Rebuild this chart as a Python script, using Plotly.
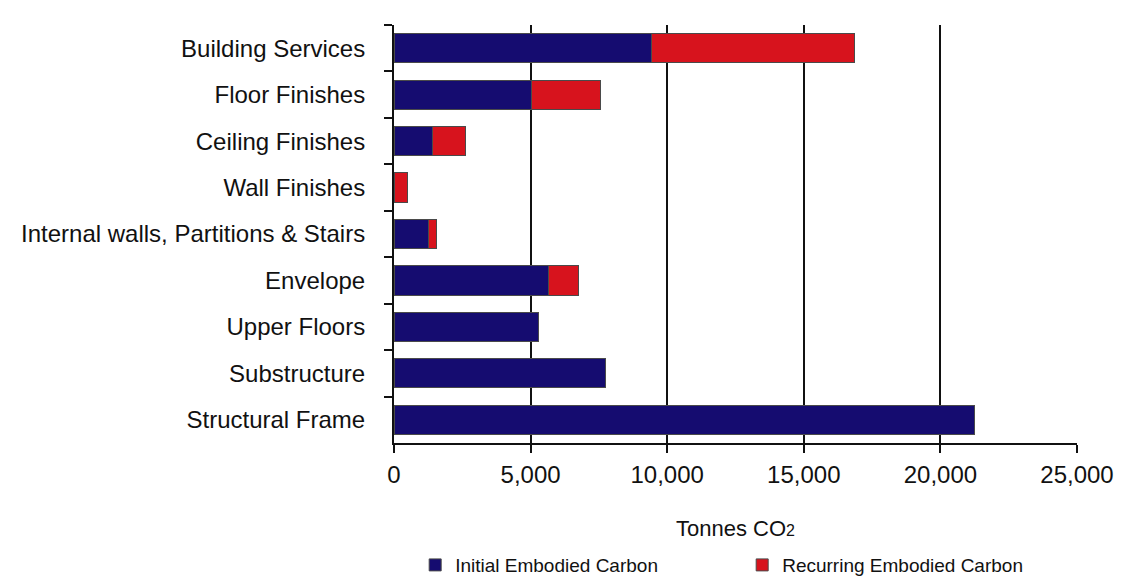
import plotly.graph_objects as go

categories = ["Building Services", "Floor Finishes", "Ceiling Finishes", "Wall Finishes",
              "Internal walls, Partitions & Stairs", "Envelope", "Upper Floors",
              "Substructure", "Structural Frame"]
initial = [9430, 5040, 1415, 0, 1255, 5650, 5280, 7735, 21250]
recurring = [7440, 2525, 1210, 500, 305, 1095, 0, 0, 0]
x_ticks = [0, 5000, 10000, 15000, 20000, 25000]

BLUE = "#150c70"
RED = "#d7131d"
FONT = "Liberation Sans, Arial, sans-serif"

fig = go.Figure()
fig.add_trace(go.Bar(y=categories, x=initial, orientation="h", name="Initial Embodied Carbon",
                     marker=dict(color=BLUE, line=dict(color="#4a4a4a", width=1))))
fig.add_trace(go.Bar(y=categories, x=recurring, orientation="h", name="Recurring Embodied Carbon",
                     marker=dict(color=RED, line=dict(color="#4a4a4a", width=1))))

fig.update_layout(
    barmode="stack",
    bargap=0.37,
    width=1134, height=576,
    margin=dict(l=386, r=65, t=17, b=141, autoexpand=False),
    paper_bgcolor="white", plot_bgcolor="white",
    font=dict(family=FONT, color="#111", size=24),
    showlegend=True,
    legend=dict(orientation="h", x=0.031, xanchor="left", y=-0.292, yanchor="middle",
                font=dict(size=19, color="#111"), entrywidth=282, traceorder="normal"),
    xaxis=dict(range=[0, 25000], tickvals=x_ticks, tickformat=",", showgrid=True,
               gridcolor="#111", gridwidth=2, zeroline=False, showline=True, linecolor="#111",
               linewidth=2, ticks="outside", ticklen=8, tickwidth=2, tickcolor="#111",
               tickfont=dict(size=24), ticklabelstandoff=1,
               title=dict(text="Tonnes CO<span style='font-size:16px'>2</span>", font=dict(size=22), standoff=34)),
    yaxis=dict(categoryorder="array", categoryarray=categories, autorange="reversed",
               showgrid=False, zeroline=False, showline=True, linecolor="#111", linewidth=2,
               ticks="outside", tickson="boundaries", ticklen=8, tickwidth=2, tickcolor="#111",
               tickfont=dict(size=24), ticklabelstandoff=22),
)

fig.write_html("out.html")
